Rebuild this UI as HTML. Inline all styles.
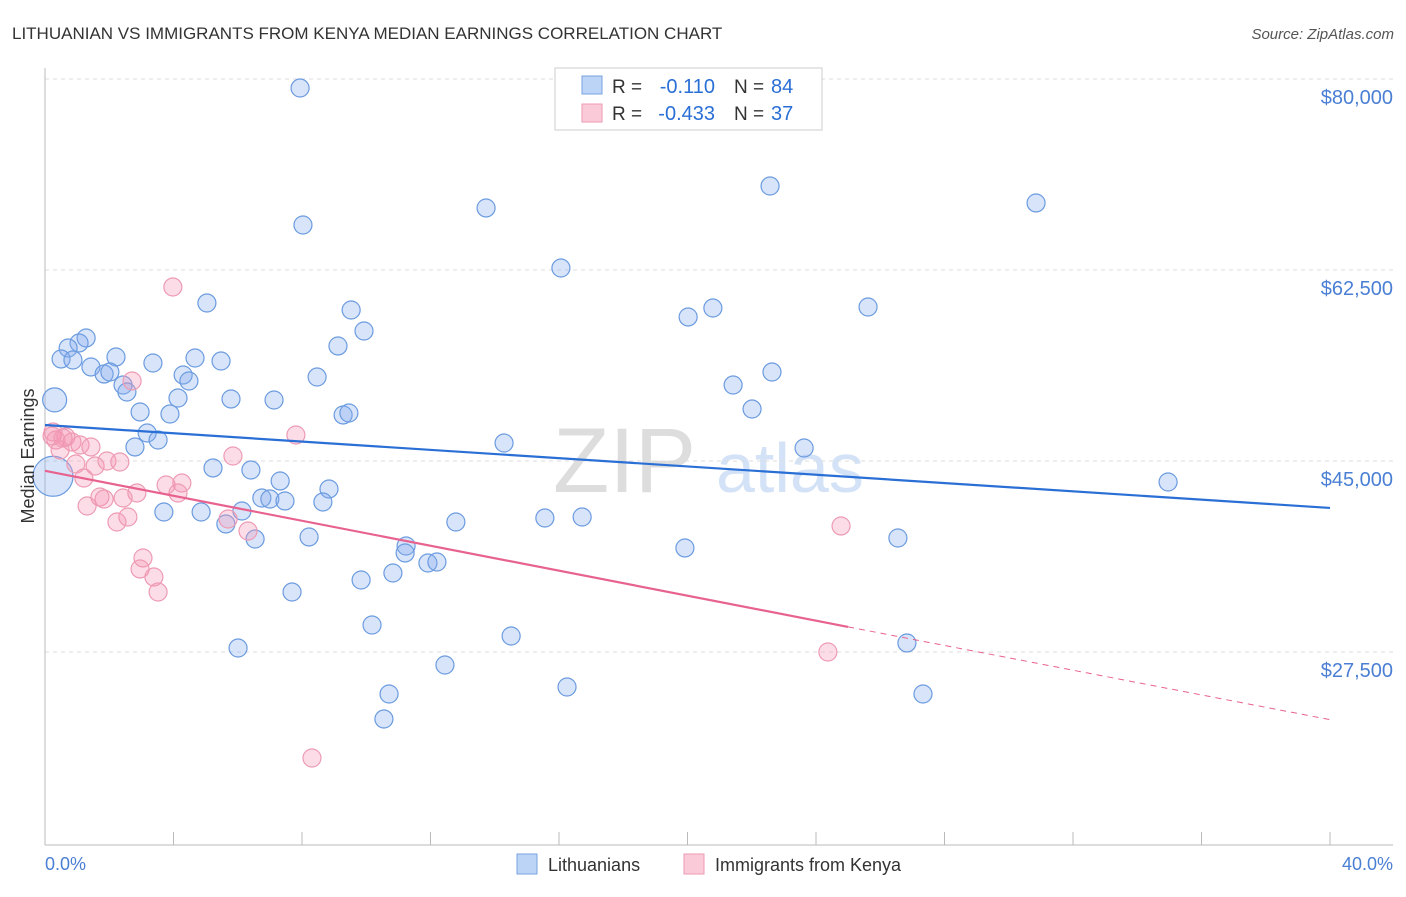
<!DOCTYPE html>
<html><head><meta charset="utf-8"><style>
body{margin:0;background:#fff;font-family:"Liberation Sans",sans-serif;}
svg text{font-family:"Liberation Sans",sans-serif;}
</style></head><body>
<svg id="chart" width="1406" height="892" xmlns="http://www.w3.org/2000/svg">
<text x="12" y="39" font-size="17" fill="#333">LITHUANIAN VS IMMIGRANTS FROM KENYA MEDIAN EARNINGS CORRELATION CHART</text>
<text x="1394" y="39" font-size="15" fill="#555" text-anchor="end" font-style="italic">Source: ZipAtlas.com</text>
<text x="553" y="492" font-size="92" fill="#ddd" font-family="Liberation Serif">ZIP</text>
<text x="716" y="492" font-size="70" fill="#d3e2f6">atlas</text>
<g id="grid"></g><g id="axes"></g><g id="pts"></g><g id="lines"></g>
<text transform="translate(34,456) rotate(-90)" font-size="18" fill="#333" text-anchor="middle">Median Earnings</text>
<text x="45" y="870" font-size="18" fill="#4a7fd4">0.0%</text>
<text x="1393" y="870" font-size="18" fill="#4a7fd4" text-anchor="end">40.0%</text>
<g>
<rect x="555" y="68" width="267" height="62" fill="#fff" stroke="#ccc"/>
<rect x="582" y="76" width="20" height="18" fill="#bcd4f5" stroke="#7aa3e0"/>
<rect x="582" y="104" width="20" height="18" fill="#fbcad8" stroke="#ee9ab3"/>
<text x="612" y="93" font-size="19" fill="#333">R =</text>
<text x="715" y="93" font-size="20" fill="#2a6fd6" text-anchor="end">-0.110</text>
<text x="734" y="93" font-size="19" fill="#333">N =</text>
<text x="771" y="93" font-size="20" fill="#2a6fd6">84</text>
<text x="612" y="120" font-size="19" fill="#333">R =</text>
<text x="715" y="120" font-size="20" fill="#2a6fd6" text-anchor="end">-0.433</text>
<text x="734" y="120" font-size="19" fill="#333">N =</text>
<text x="771" y="120" font-size="20" fill="#2a6fd6">37</text>
</g>
<g>
<rect x="517" y="854" width="20" height="20" fill="#bcd4f5" stroke="#7aa3e0"/>
<text x="548" y="871" font-size="18" fill="#333">Lithuanians</text>
<rect x="684" y="854" width="20" height="20" fill="#fbcad8" stroke="#ee9ab3"/>
<text x="715" y="871" font-size="18" fill="#333">Immigrants from Kenya</text>
</g>
</svg>
<script>
const yTicks=[80000,62500,45000,27500];
const yTickLabels=["$80,000","$62,500","$45,000","$27,500"];
const xTicks=[0,4,8,12,16,20,24,28,32,36,40];
const bluePx=[[300,88],[303,225],[486,208],[770,186],[1036,203],[561,268],[207,303],[351,310],[688,317],[713,308],[868,307],[364,331],[338,346],[86,338],[79,343],[68,348],[61,359],[73,360],[116,357],[153,363],[195,358],[221,361],[91,367],[104,374],[110,372],[183,375],[189,381],[317,377],[733,385],[772,372],[123,385],[127,392],[178,398],[231,399],[274,400],[140,412],[170,414],[343,415],[349,413],[752,409],[147,433],[158,440],[135,447],[504,443],[804,448],[213,468],[251,470],[280,481],[1168,482],[329,489],[262,498],[270,499],[285,501],[323,502],[242,511],[164,512],[201,512],[226,524],[456,522],[545,518],[582,517],[255,539],[309,537],[406,546],[405,553],[685,548],[898,538],[361,580],[393,573],[428,563],[437,562],[292,592],[372,625],[511,636],[238,648],[907,643],[445,665],[567,687],[389,694],[923,694],[384,719]];
const pinkPx=[[173,287],[132,381],[53,432],[66,437],[56,440],[72,442],[80,445],[91,447],[60,450],[296,435],[233,456],[76,464],[95,466],[107,461],[120,462],[84,478],[182,483],[166,485],[100,497],[104,499],[137,493],[123,498],[178,493],[87,506],[128,517],[117,522],[228,519],[248,531],[841,526],[143,558],[140,569],[154,577],[158,592],[828,652],[312,758],[52,436],[63,438]];
const toX=p=>(p-45)/32.125, toY=p=>80000-(p-79)*17500/191;
const blueX=bluePx.map(d=>+toX(d[0]).toFixed(2)), blueY=bluePx.map(d=>Math.round(toY(d[1])));
const pinkX=pinkPx.map(d=>+toX(d[0]).toFixed(2)), pinkY=pinkPx.map(d=>Math.round(toY(d[1])));
const bigX=[0.25,0.3], bigY=[43600,50600], bigR=[20,12];
const blueTrend=[[0,48300],[40,40700]];
const pinkTrend=[[0,44100],[25,29800],[40,21300]];
const sx=v=>45+v*32.125, sy=v=>79+(80000-v)*191/17500;
const NS="http://www.w3.org/2000/svg";
function mk(t,a,p){const e=document.createElementNS(NS,t);for(const k in a)e.setAttribute(k,a[k]);document.getElementById(p).appendChild(e);return e;}
yTicks.forEach((v,i)=>{
 const g=mk('line',{x1:45,x2:1393,y1:sy(v),y2:sy(v),stroke:'#ddd','stroke-dasharray':'4,4'},'grid');
 
 
 const t=mk('text',{x:1393,y:sy(v)+25,'font-size':20,fill:'#4a7fd4','text-anchor':'end'},'grid');t.textContent=yTickLabels[i];
 
 
});
mk('line',{x1:45,x2:45,y1:68,y2:845,stroke:'#bbb'},'axes');
mk('line',{x1:45,x2:1393,y1:845,y2:845,stroke:'#bbb'},'axes');
xTicks.forEach(v=>{const l=mk('line',{x1:sx(v),x2:sx(v),y1:832,y2:845,stroke:'#bbb'},'axes');
 
 });
function dot(x,y,r,c){const e=mk('circle',{cx:sx(x),cy:sy(y),r:r,fill:c[0],stroke:c[1],'stroke-width':1.2},'pts');return e;}
const BC=['rgba(130,170,235,0.32)','#6b9be0'],PC=['rgba(245,150,180,0.32)','#ee9ab3'];
bigX.forEach((x,i)=>{const e=dot(x,bigY[i],bigR[i],BC);
 
 });
blueX.forEach((x,i)=>{const e=dot(x,blueY[i],9,BC);
 
 });
pinkX.forEach((x,i)=>{const e=dot(x,pinkY[i],9,PC);
 
 });
let l=mk('line',{x1:sx(blueTrend[0][0]),y1:sy(blueTrend[0][1]),x2:sx(blueTrend[1][0]),y2:sy(blueTrend[1][1]),stroke:'#2a6fd6','stroke-width':2.2},'lines');


l=mk('line',{x1:sx(pinkTrend[0][0]),y1:sy(pinkTrend[0][1]),x2:sx(pinkTrend[1][0]),y2:sy(pinkTrend[1][1]),stroke:'#e8628f','stroke-width':2.2},'lines');


l=mk('line',{x1:sx(pinkTrend[1][0]),y1:sy(pinkTrend[1][1]),x2:sx(pinkTrend[2][0]),y2:sy(pinkTrend[2][1]),stroke:'#e8628f','stroke-width':1,'stroke-dasharray':'6,5'},'lines');


</script>
</body></html>
